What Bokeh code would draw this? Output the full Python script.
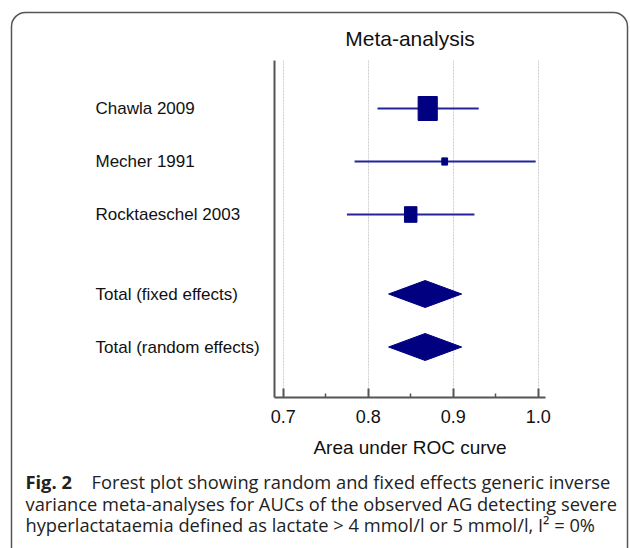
import math
from bokeh.plotting import figure
from bokeh.models import Range1d, FixedTicker, BoxAnnotation, ColumnDataSource, LinearAxis, Grid
from bokeh.embed import file_html
from bokeh.resources import INLINE
from bokeh.core.properties import value

# ---------------- data ----------------
studies = ["Chawla 2009", "Mecher 1991", "Rocktaeschel 2003"]
study_auc = [0.870, 0.890, 0.850]
study_low = [0.811, 0.784, 0.775]
study_high = [0.930, 0.997, 0.925]
study_weight = [66, 6, 28]          # % weight (box area)

totals = ["Total (fixed effects)", "Total (random effects)"]
total_auc = [0.867, 0.867]
total_low = [0.824, 0.824]
total_high = [0.910, 0.910]

x_ticks = [0.7, 0.8, 0.9, 1.0]
x_minor = [0.75, 0.85, 0.95]
x_tick_labels = ["0.7", "0.8", "0.9", "1.0"]
x_bounds = (0.6898, 1.0086)

title_text = "Meta-analysis"
x_label = "Area under ROC curve"
caption_bold = "Fig. 2"
caption_lines = [
    "Forest plot showing random and fixed effects generic inverse",
    "variance meta-analyses for AUCs of the observed AG detecting severe",
    "hyperlactataemia defined as lactate > 4 mmol/l or 5 mmol/l, I\u00b2 = 0%",
]

# ---------------- layout / styling ----------------
W, H = 630, 548
FONT = "Liberation Sans"
CAP_FONT = "Open Sans"
NAVY = "#000080"
CI_COL = "#23239a"
AX_COL = "#555555"
TXT = "#111111"

PX_X = 850.0      # pixels per AUC unit
PX_Y = 53.0       # pixels per row
X0_PX = 282.7     # pixel of x = 0.7
R1_PX = 108.0     # pixel of first row


def dx(px):
    return 0.7 + (px - X0_PX) / PX_X


def dy(py):
    return 1 + (py - R1_PX) / PX_Y


study_y = [i + 1 for i in range(len(studies))]
total_y = [len(studies) + 1.5 + i for i in range(len(totals))]
y_bounds = (dy(60), dy(397))

XR = Range1d(dx(0), dx(W))
YR = Range1d(dy(H), dy(0))

p = figure(width=W, height=H, x_range=XR, y_range=YR,
           x_axis_location=None, y_axis_location=None,
           min_border=0, min_border_left=0, min_border_right=0,
           min_border_top=0, min_border_bottom=0,
           output_backend="svg", toolbar_location=None,
           background_fill_color="white", border_fill_color="white")
p.outline_line_color = None
p.xgrid.visible = False
p.ygrid.visible = False

# grid
g = Grid(dimension=0, ticker=FixedTicker(ticks=x_ticks), cross_bounds=y_bounds,
         grid_line_color="#cfcfcf", grid_line_dash="2 1", grid_line_width=1)
p.add_layout(g)

# x axis
xa = LinearAxis(fixed_location=y_bounds[1], bounds=x_bounds,
                ticker=FixedTicker(ticks=x_ticks, minor_ticks=x_minor))
xa.major_label_overrides = {t: l for t, l in zip(x_ticks, x_tick_labels)}
xa.axis_line_color = AX_COL
xa.axis_line_width = 2
xa.major_tick_line_color = AX_COL
xa.major_tick_line_width = 2
xa.major_tick_in = 9
xa.major_tick_out = 0
xa.minor_tick_line_color = AX_COL
xa.minor_tick_line_width = 1.5
xa.minor_tick_in = 4
xa.minor_tick_out = 0
xa.major_label_text_font = FONT
xa.major_label_text_font_size = "18px"
xa.major_label_text_color = TXT
xa.major_label_standoff = 12
xa.axis_label = x_label
xa.axis_label_text_font = FONT
xa.axis_label_text_font_size = "19px"
xa.axis_label_text_font_style = "normal"
xa.axis_label_text_color = TXT
xa.axis_label_standoff = 11
p.add_layout(xa, "below")

# y axis (line only)
ya = LinearAxis(fixed_location=x_bounds[0], bounds=y_bounds, ticker=FixedTicker(ticks=[]))
ya.axis_line_color = AX_COL
ya.axis_line_width = 2
ya.major_tick_line_color = None
ya.minor_tick_line_color = None
ya.major_label_text_font_size = "0px"
p.add_layout(ya, "left")

# study CIs and boxes
k = 2.95
src = ColumnDataSource(dict(
    y=study_y, auc=study_auc, lo=study_low, hi=study_high,
    h=[k * math.sqrt(w) for w in study_weight],
    w=[0.8 * k * math.sqrt(w) for w in study_weight],
))
p.segment(x0="lo", y0="y", x1="hi", y1="y", source=src, line_color=CI_COL, line_width=2)
p.rect(x="auc", y="y", width="w", height="h", width_units="screen", height_units="screen",
       source=src, fill_color=NAVY, line_color=NAVY)

# diamonds
half = 13.5 / PX_Y
xs = [[lo, est, hi, est] for lo, est, hi in zip(total_low, total_auc, total_high)]
ys = [[y, y - half, y, y + half] for y in total_y]
p.patches(xs, ys, fill_color=NAVY, line_color=NAVY)

# title
p.text(x=[(x_bounds[0] + x_bounds[1]) / 2], y=[dy(38)], text=[title_text],
       text_align="center", text_baseline="middle",
       text_font=value(FONT), text_font_size="21px", text_color=TXT)

# row labels
p.text(x=[dx(95)] * (len(studies) + len(totals)), y=study_y + total_y, text=studies + totals,
       text_align="left", text_baseline="middle",
       text_font=value(FONT), text_font_size="17px", text_color=TXT)

# caption
cap_x = 25
cap_mid = [481, 502.5, 524]
p.text(x=[dx(cap_x)], y=[dy(cap_mid[0])], text=[caption_bold],
       text_align="left", text_baseline="middle", text_font=value(CAP_FONT),
       text_font_style="bold", text_font_size="18.3px", text_color="#222222")
p.text(x=[dx(91), dx(cap_x), dx(cap_x)], y=[dy(b) for b in cap_mid], text=caption_lines,
       text_align="left", text_baseline="middle", text_font=value(CAP_FONT),
       text_font_size="18.3px", text_color="#222222")

# outer rounded frame
p.add_layout(BoxAnnotation(left=dx(11), right=dx(627), top=dy(12), bottom=dy(580),
                           fill_color=None, line_color="#555555", line_alpha=1.0,
                           line_width=1.5, border_radius=14))

open("out.html", "w").write(file_html(p, INLINE))
